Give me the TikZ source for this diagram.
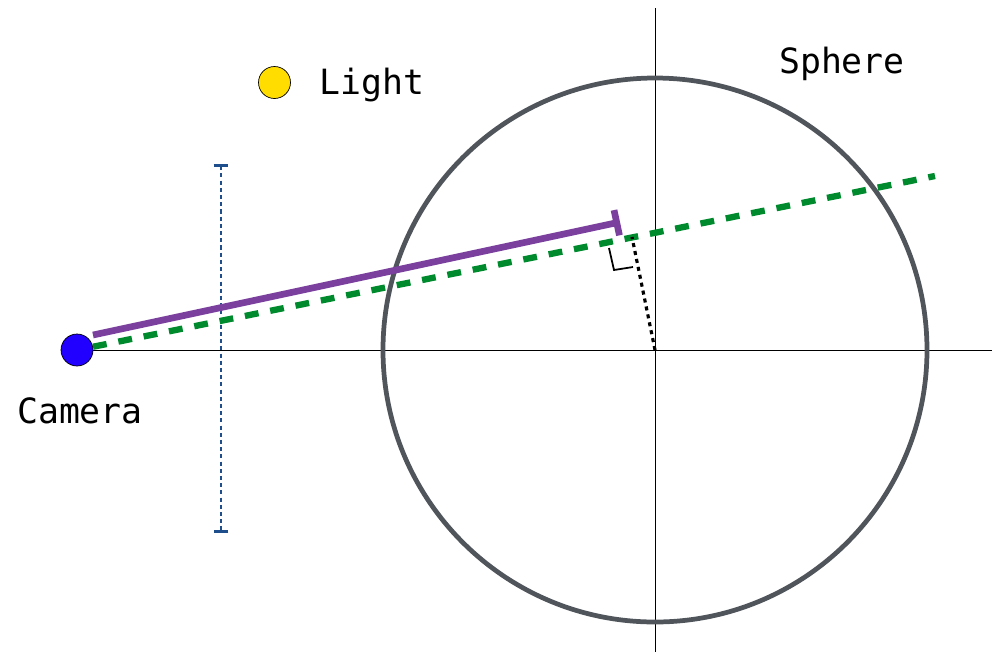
\documentclass[tikz,border=0pt]{standalone}
\usepackage{fontspec}
\setmonofont{DejaVu Sans Mono}
\usetikzlibrary{arrows.meta}
\definecolor{spheregray}{HTML}{50555C}
\definecolor{raygreen}{HTML}{008A2E}
\definecolor{segpurple}{HTML}{7B3F9E}
\definecolor{screenblue}{HTML}{1F4E8C}
\definecolor{camblue}{HTML}{2200FF}
\definecolor{lightyellow}{HTML}{FFDD00}
\begin{document}
\begin{tikzpicture}[x=0.02cm, y=-0.02cm,
  every node/.style={font=\ttfamily\fontsize{19.8}{23}\selectfont},
  dot/.style={circle,draw,thin,minimum size=0.64cm,inner sep=0pt},
  axis/.style={black,line width=0.45pt},
  ray/.style={raygreen,line width=3.6pt,dash pattern=on 7.9pt off 6.8pt},
  seg/.style={segpurple,line width=3.8pt,-{Bar[width=14.7pt]}},
  perp/.style={black,line width=1.8pt,dash pattern=on 2.3pt off 2.3pt}]
\useasboundingbox (0,0) rectangle (1002,654);
\coordinate (O) at (655,350);
\coordinate (xend) at (992,350);
\coordinate (ytop) at (655,8);
\coordinate (ybot) at (655,652);
\coordinate (rayend) at (935,176);
\coordinate (foot) at (632,237);
\coordinate (segstart) at (93,335);
\coordinate (segend) at (620,222);
\coordinate (scrtop) at (221,164);
\coordinate (scrbot) at (221,533);
% axes
\draw[axis] (O) -- (xend);
\draw[axis] (ytop) -- (ybot);
\draw[axis] (76,350) -- (O);
% sphere
\draw[spheregray,line width=2.7pt] (O) circle[radius=272];
\node (spherelbl) at (842,64) {Sphere};
% screen
\draw[screenblue,line width=1.4pt,dash pattern=on 2.3pt off 1.8pt,
  {Bar[width=8.5pt,line width=1.7pt]}-{Bar[width=8.5pt,line width=1.7pt]}] (scrtop) -- (scrbot);
% light
\node[dot,fill=lightyellow] (light) at (274.5,82.5) {};
\node (lightlbl) at (372,85) {Light};
% camera
\node[dot,fill=camblue] (camera) at (77,350) {};
\node (cameralbl) at (80,411) {Camera};
% ray and segment
\draw[ray] (camera) -- (rayend);
\draw[seg] (segstart) -- (segend);
% perpendicular from centre
\draw[perp] (O) -- (foot);
\draw[black,line width=1pt] (609,248) -- (614,270) -- (633,267);
\end{tikzpicture}
\end{document}
